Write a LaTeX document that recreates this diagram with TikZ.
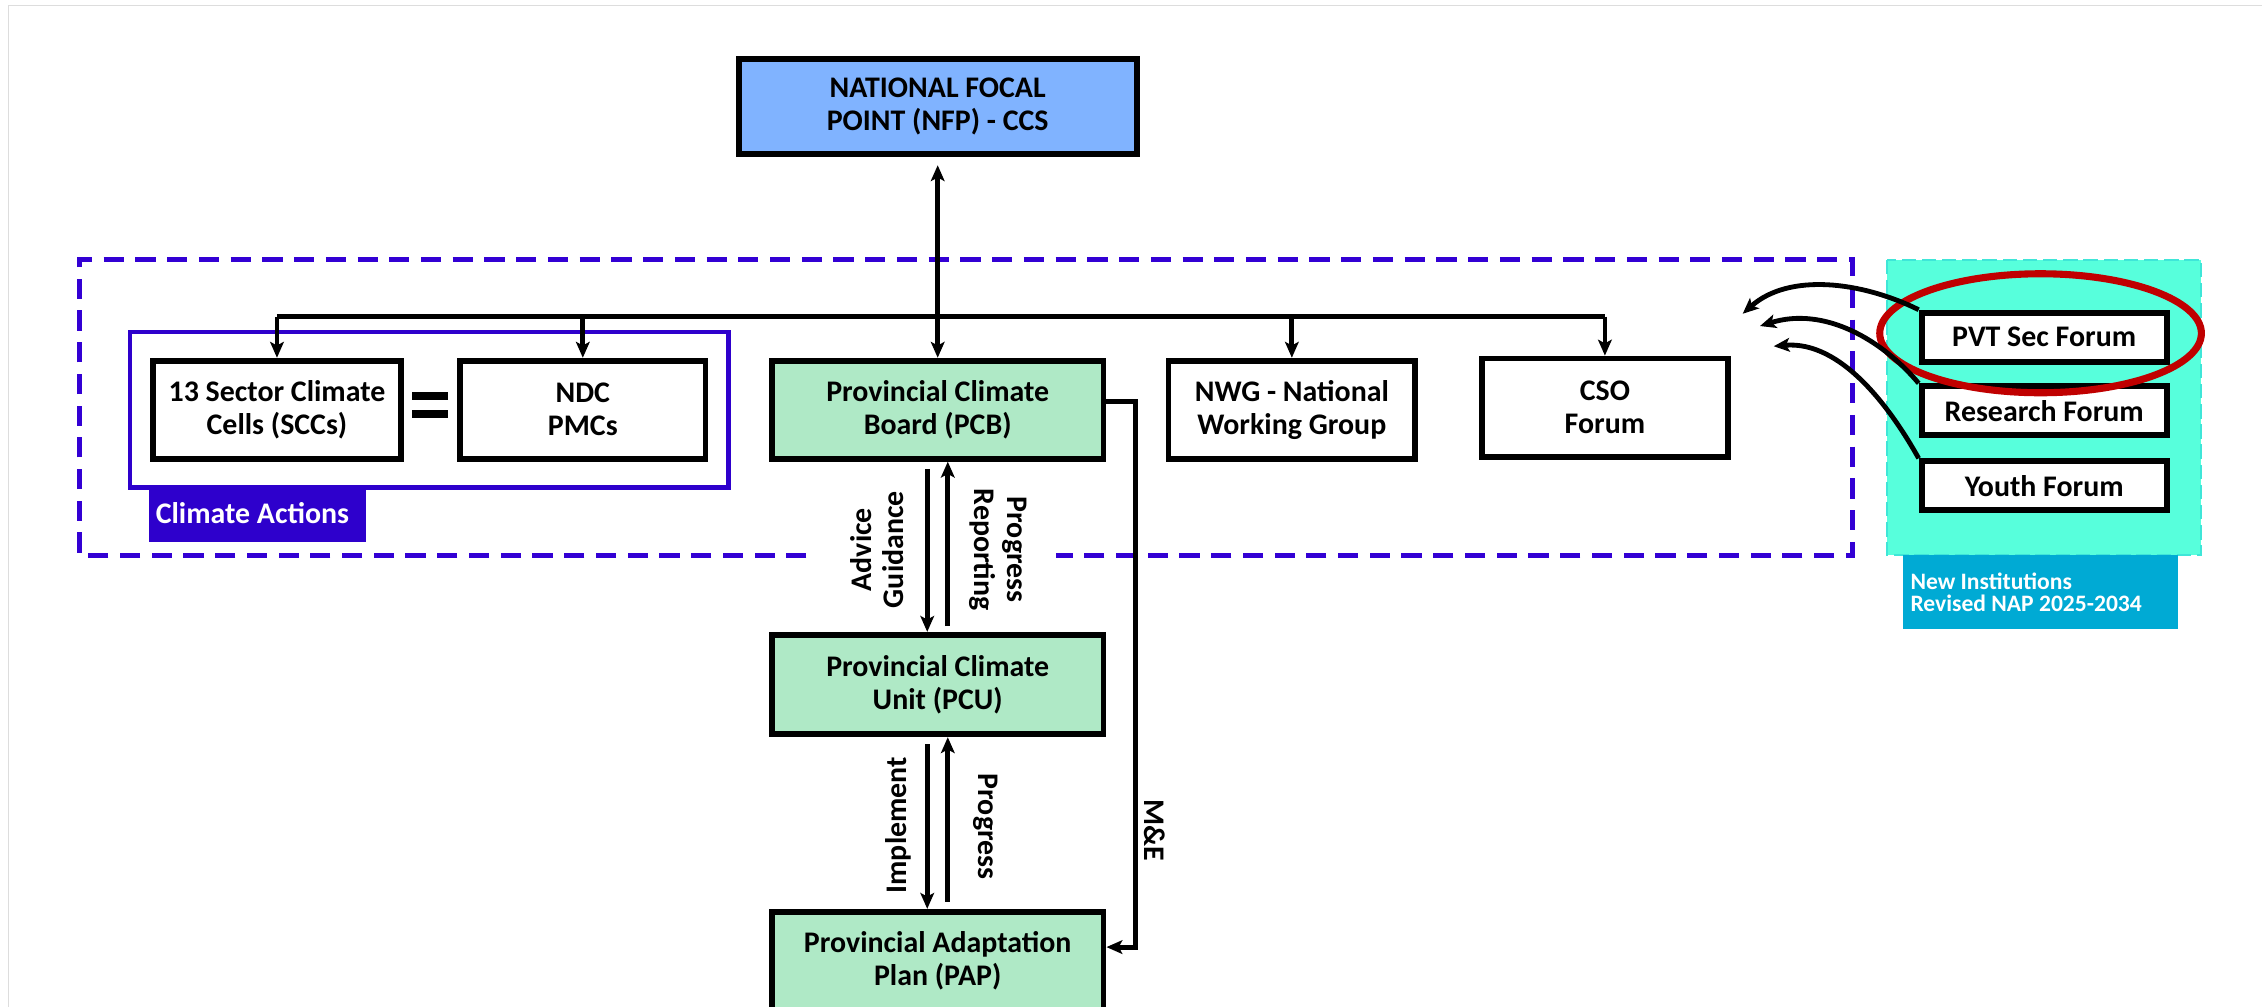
\documentclass[tikz,border=0pt]{standalone}
\usepackage{fontspec}
\setmainfont{Carlito}
\usetikzlibrary{arrows.meta,calc,shapes.geometric}

\definecolor{nfpblue}{HTML}{80B3FF}
\definecolor{pgreen}{HTML}{AFE9C6}
\definecolor{dashblue}{HTML}{3300D4}
\definecolor{cablue}{HTML}{2E00CC}
\definecolor{newcyan}{HTML}{57FFDC}
\definecolor{newcyanedge}{HTML}{3FE6D8}
\definecolor{labelblue}{HTML}{00AAD4}
\definecolor{ringred}{HTML}{C00000}
\definecolor{framegray}{HTML}{DDDDDD}

\tikzset{
  txt/.style={font=\bfseries\fontsize{11.8}{13}\selectfont, align=center},
  box/.style={txt, draw=black, line width=2.3pt, fill=white, inner sep=0pt},
  bigbox/.style={box, minimum height=1.36cm},
  forum/.style={box, minimum width=3.4cm, minimum height=0.68cm},
  conn/.style={line width=1.9pt, black},
  tip/.style={Stealth[length=0.22cm, width=0.19cm, inset=0.05cm]},
  arr/.style={conn, -{Stealth[length=0.22cm, width=0.19cm, inset=0.05cm]}},
  darr/.style={conn, {Stealth[length=0.22cm, width=0.19cm, inset=0.05cm]}-{Stealth[length=0.22cm, width=0.19cm, inset=0.05cm]}},
  vlabel/.style={txt},
}

\begin{document}
\begin{tikzpicture}[x=0.02cm, y=-0.02cm]
  \useasboundingbox (0,0) rectangle (1568,698);
  \clip (0,0) rectangle (1568,698);

  % page frame
  \draw[framegray, line width=0.6pt] (5.8,720) -- (5.8,3.7) -- (1580,3.7);

  % national level group (dashed, open at the bottom for the flow labels)
  \draw[dashblue, line width=2.1pt, dash pattern=on 0.28cm off 0.16cm]
    (559,385) -- (55,385) -- (55,180) -- (1284,180) -- (1284,385) -- (732,385);

  % climate actions group
  \draw[cablue, line width=1.8pt] (90,230) rectangle (505,338);
  \fill[cablue] (103,338) rectangle (254,376);
  \node[txt, text=white] (catag) at (175,356) {Climate Actions};

  % new institutions panel
  \filldraw[fill=newcyan, draw=newcyanedge, line width=0.8pt, dash pattern=on 0.2cm off 0.08cm]
    (1308,180) rectangle (1526,385);
  \fill[labelblue] (1319,385) rectangle (1510,436);
  \node[anchor=west, align=left, text=white, inner sep=0pt,
        font=\bfseries\fontsize{9.3}{8.6}\selectfont] (nilabel) at (1324,410.5)
    {New Institutions\\Revised NAP 2025-2034};

  % main nodes
  \node[box, fill=nfpblue, minimum width=5.52cm, minimum height=1.32cm] (nfp) at (650,74)
    {NATIONAL FOCAL\\POINT (NFP) - CCS};
  \node[bigbox, minimum width=3.44cm] (scc) at (192,284) {13 Sector Climate\\Cells (SCCs)};
  \node[bigbox, minimum width=3.4cm] (ndc) at (404,284) {NDC\\PMCs};
  \node[bigbox, fill=pgreen, minimum width=4.6cm] (pcb) at (650,284) {Provincial Climate\\Board (PCB)};
  \node[bigbox, minimum width=3.42cm] (nwg) at (895.5,284) {NWG - National\\Working Group};
  \node[bigbox, minimum width=3.42cm] (cso) at (1112.5,282.5) {CSO\\Forum};
  \node[bigbox, fill=pgreen, minimum width=4.6cm, minimum height=1.38cm] (pcu) at (650,474.5)
    {Provincial Climate\\Unit (PCU)};
  \node[bigbox, fill=pgreen, minimum width=4.6cm] (pap) at (650,666)
    {Provincial Adaptation\\Plan (PAP)};

  % equals sign between SCCs and NDC PMCs
  \fill (285.5,272) rectangle (310.5,277.5);
  \fill (285.5,284) rectangle (310.5,289.5);

  % forums
  \node[forum] (pvt) at (1417,233.7) {PVT Sec Forum};
  \node[forum] (res) at (1417,284.7) {Research Forum};
  \node[forum] (youth) at (1417,336.7) {Youth Forum};

  % highlight ring
  \node[ellipse, draw=ringred, line width=2.8pt, minimum width=4.46cm, minimum height=1.65cm,
        inner sep=0pt] (ring) at (1414.5,231) {};

  % NFP <-> PCB
  \draw[darr, shorten <=0.11cm] (nfp.south) -- (pcb.north);

  % distribution bus
  \coordinate (bus) at (650,219.4);
  \draw[conn] (scc.north |- bus) -- (cso.north |- bus);
  \foreach \n in {scc,ndc,nwg,cso}
    \draw[arr] (\n.north |- bus) -- (\n.north);

  % PCB <-> PCU
  \draw[arr, shorten <=0.1cm] ([xshift=-0.145cm]pcb.south) -- ([xshift=-0.145cm]pcu.north);
  \draw[arr, shorten <=0.08cm] ([xshift=0.14cm]pcu.north) -- ([xshift=0.14cm]pcb.south);
  \node[vlabel, rotate=90] (advice) at (608,381) {Advice\\Guidance};
  \node[vlabel, rotate=-90] (progrep) at (692,381) {Progress\\Reporting};

  % PCU <-> PAP
  \draw[arr, shorten <=0.1cm] ([xshift=-0.145cm]pcu.south) -- ([xshift=-0.145cm]pap.north);
  \draw[arr, shorten <=0.1cm] ([xshift=0.14cm]pap.north) -- ([xshift=0.14cm]pcu.south);
  \node[vlabel, rotate=90] (impl) at (623,572) {Implement};
  \node[vlabel, rotate=-90] (prog) at (683.5,573) {Progress};

  % monitoring and evaluation loop
  \coordinate (metop) at (787,278.5);
  \coordinate (mebot) at (787,656.5);
  \draw[arr] (pcb.east |- metop) -- (metop) -- (mebot) -- (pap.east |- mebot);
  \node[vlabel, rotate=-90] (me) at (800.5,575.5) {M\&E};

  % forum links into the national group
  \coordinate (tip1) at (1208,217.5);
  \coordinate (tip2) at (1220,226);
  \coordinate (tip3) at (1229.5,240);
  \draw[arr] (pvt.north west) .. controls (1290,195) and (1240,189) .. (tip1);
  \draw[arr] (res.north west) .. controls (1305,236) and (1265,212) .. (tip2);
  \draw[arr] (youth.north west) .. controls (1310,282) and (1276,236) .. (tip3);
\end{tikzpicture}
\end{document}
